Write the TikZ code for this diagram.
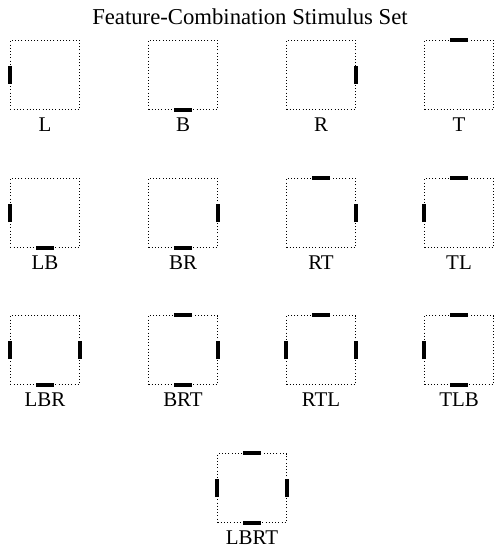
\documentclass[tikz,border=0pt]{standalone}
\usepackage{fontspec}
\setmainfont{Liberation Serif}
\usetikzlibrary{positioning}

\begin{document}
\begin{tikzpicture}[x=1bp, y=-1bp,
    stim/.style={draw, dash pattern=on 1bp off 2.2bp, line width=1bp,
      minimum size=69bp, inner sep=0pt},
    feat/.style={line width=4bp},
    tag/.style={font=\fontsize{21}{21}\selectfont, inner sep=0pt}]
  \useasboundingbox (0,0) rectangle (495,549);

  % Title
  \node[font=\fontsize{22.8}{22.8}\selectfont, inner sep=0pt, anchor=base] (title) at (250,25) {Feature-Combination Stimulus Set};

  % Stimulus boxes with their feature bars
  \foreach \n/\cx/\cy/\sides in {
      L/45/75/{west/0/9},
      B/183/75/{south/9/0},
      R/321/75/{east/0/9},
      T/459/75/{north/9/0},
      LB/45/213/{west/0/9, south/9/0},
      BR/183/213/{south/9/0, east/0/9},
      RT/321/213/{east/0/9, north/9/0},
      TL/459/213/{north/9/0, west/0/9},
      LBR/45/350/{west/0/9, south/9/0, east/0/9},
      BRT/183/350/{south/9/0, east/0/9, north/9/0},
      RTL/321/350/{east/0/9, north/9/0, west/0/9},
      TLB/459/350/{north/9/0, west/0/9, south/9/0},
      LBRT/252/488/{west/0/9, south/9/0, east/0/9, north/9/0}} {
    \node[stim] (box\n) at (\cx,\cy) {};
    \node[tag, below=8bp of box\n] (lab\n) {\n};
    \foreach \a/\dx/\dy in \sides
      \draw[feat] ([xshift=-\dx bp, yshift=-\dy bp]box\n.\a) -- ([xshift=\dx bp, yshift=\dy bp]box\n.\a);
  }
\end{tikzpicture}
\end{document}
